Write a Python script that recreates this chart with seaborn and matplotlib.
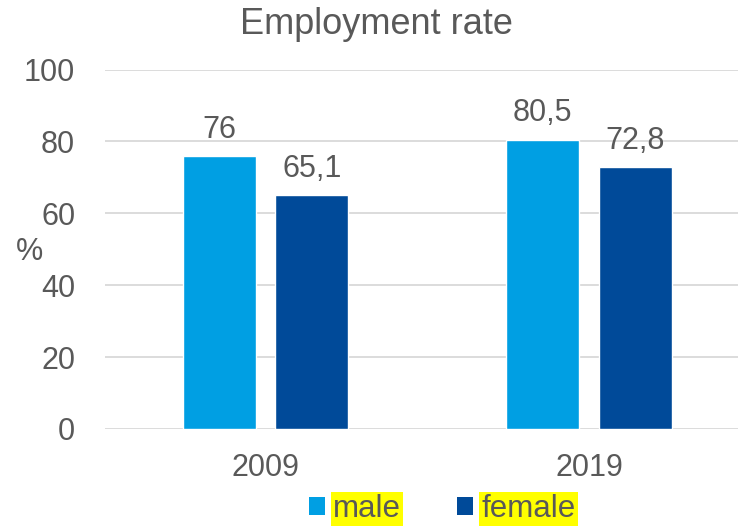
import matplotlib
matplotlib.use("Agg")
import matplotlib.pyplot as plt
from matplotlib.patches import Patch
import seaborn as sns
import pandas as pd

years = ["2009", "2019"]
genders = ["male", "female"]
male_rate = [76, 80.5]
female_rate = [65.1, 72.8]
colors = ["#009FE3", "#004A99"]
y_ticks = [0, 20, 40, 60, 80, 100]

df = pd.DataFrame({
    "year": years * 2,
    "gender": [genders[0]] * len(years) + [genders[1]] * len(years),
    "rate": male_rate + female_rate,
})

sns.set_theme(style="white")
plt.rcParams["font.family"] = ["Liberation Sans", "DejaVu Sans"]
TXT = "#595959"

fig = plt.figure(figsize=(7.38, 5.26), dpi=100)
ax = fig.add_axes([105 / 738, 97 / 526, 633 / 738, 359.5 / 526])

sns.barplot(data=df, x="year", y="rate", hue="gender", order=years,
            hue_order=genders, palette=colors, width=0.572, gap=0.21,
            saturation=1, legend=False, ax=ax)

for cont in ax.containers:
    vals = [b.get_height() for b in cont]
    ax.bar_label(cont, labels=[f"{v:g}".replace(".", ",") for v in vals],
                 padding=8, fontsize=22, color=TXT)

ax.set_ylim(0, 100)
ax.set_xlim(-0.496, 1.46)
ax.set_yticks(y_ticks)
ax.yaxis.grid(True, color="#D9D9D9", linewidth=1.3)
ax.set_axisbelow(True)
for s in ax.spines.values():
    s.set_visible(False)
ax.tick_params(axis="y", length=0, pad=21.5, labelsize=22, labelcolor=TXT)
ax.tick_params(axis="x", length=0, pad=17, labelsize=22, labelcolor=TXT)
ax.set_xlabel("")
ax.set_ylabel("")

fig.text(16 / 738, 1 - 252 / 526, "%", fontsize=22, color=TXT,
         ha="left", va="center")
fig.text(376 / 738, 1 - 34 / 526, "Employment rate", fontsize=26,
         color=TXT, ha="center", va="baseline")

handles = [Patch(facecolor=c, edgecolor="none") for c in colors]
leg = fig.legend(handles, genders, loc="center", ncol=2,
                 bbox_to_anchor=(442 / 738, 17 / 526), frameon=False,
                 fontsize=22.5, handlelength=0.52, handleheight=0.52,
                 handletextpad=0.25, columnspacing=1.8, borderpad=0)
for t in leg.get_texts():
    t.set_color(TXT)
    t.set_bbox(dict(facecolor="#FFFF00", edgecolor="none", pad=1.5))

fig.savefig("out.png", dpi=100)
